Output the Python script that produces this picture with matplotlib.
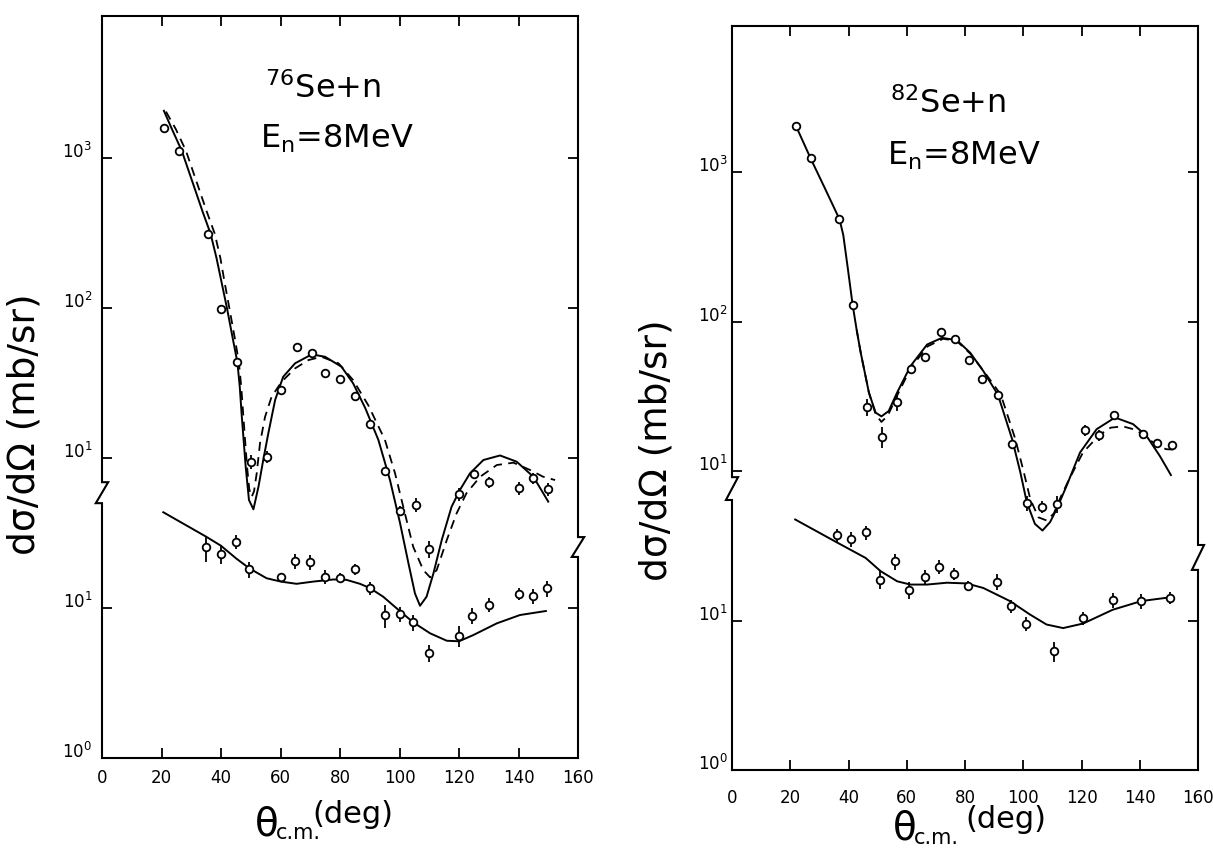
import numpy as np
import matplotlib
matplotlib.use('Agg')
import matplotlib.pyplot as plt

plt.rcParams['font.family'] = 'DejaVu Sans'
plt.rcParams['mathtext.fontset'] = 'dejavusans'

W, H = 1213, 850

# elastic data sit one decade above the inelastic data on the same log axis
SHIFT = 10.0

# ---------------- 76Se + n, En = 8 MeV ----------------
se76_el_theta = [21, 26, 35.5, 40, 45.5, 50, 55.5, 60, 65.5, 70.5, 75, 80,
                 85, 90, 95, 100, 105.5, 110, 120, 125, 130, 140, 145, 150]
se76_el_sig = [1580, 1120, 313, 99, 43.5, 9.4, 10.2, 28.4, 54.7, 49.9, 36.9, 33.5,
               26.0, 16.9, 8.15, 4.43, 4.89, 2.47, 5.73, 7.85, 6.92, 6.28, 7.33, 6.21]
se76_el_err = [0, 0, 0, 6, 0, 1.0, 1.0, 0, 0, 0, 0, 0,
               0, 0, 0, 0.35, 0.55, 0.32, 0.6, 0.6, 0.6, 0.6, 0.6, 0.6]

se76_in_theta = [35, 40, 45, 49.5, 60, 65, 70, 75, 80, 85, 90, 95, 100, 104.5,
                 110, 120, 124.5, 130, 140, 145, 149.5]
se76_in_sig = [25.4, 22.8, 27.7, 18.1, 16.2, 20.5, 20.2, 16.1, 15.8, 18.1, 13.6,
               8.94, 9.12, 8.03, 5.01, 6.53, 8.9, 10.5, 12.4, 12.0, 13.5]
se76_in_err = [5.0, 3.2, 2.9, 2.2, 1.0, 2.4, 2.4, 1.7, 1.2, 1.6, 1.3,
               1.6, 1.0, 1.0, 0.62, 1.0, 1.1, 1.1, 1.1, 1.4, 1.6]

se76_fit_theta = [20.8, 23.5, 26.8, 31, 33.8, 36.5, 38.5, 40.3, 42, 44, 45.5,
                  46.3, 47.0, 48.3, 49.4, 50.9, 52.6, 54.2, 55.9, 58.2, 60.9,
                  64.9, 70.5, 75.0, 80.5, 84.4, 88.5, 92.9, 96.8, 100.2, 103.0,
                  105.2, 106.9, 109.1, 111.4, 114.2, 117.5, 120.3, 123.7,
                  128.2, 133.8, 139.4, 145.0, 150.0]
se76_fit_sig = [2066, 1560, 1120, 640, 440, 313, 215, 145, 100, 62, 43.5,
                30, 18.8, 8.75, 5.25, 4.55, 6.44, 9.7, 14.6, 24.4, 34.8,
                42.8, 49.1, 47.3, 40.6, 31.5, 21.5, 13.2, 7.13, 3.67, 1.99,
                1.25, 1.035, 1.19, 1.70, 2.84, 4.73, 6.12, 7.91,
                9.7, 10.4, 9.45, 7.5, 5.12]

se76_dash_theta = [21.5, 24.8, 28.2, 32.4, 35.2, 37.9, 39.8, 41.3, 42.8, 44.7,
                   46.0, 46.8, 47.6, 48.7, 49.5, 50.3, 51.1, 52.0, 53.1, 54.8,
                   57.0, 60.4, 64.9, 69.4, 73.8, 79.5, 84.4, 89.5, 95.1, 98.5,
                   101.8, 104.6, 108.0, 110.3, 112.5, 115.9, 119.2, 122.5,
                   127.1, 132.7, 138.3, 143.9, 148.3, 152.3]
se76_dash_sig = [2040, 1560, 1120, 640, 440, 313, 215, 145, 100, 62,
                 43.5, 30, 18, 9.0, 6.2, 5.5, 6.0, 7.9, 12.5, 18.8,
                 25.6, 32.3, 39.6, 45.0, 47.3, 42.8, 33.1, 22.5, 13.2, 7.91,
                 4.28, 2.56, 1.79, 1.6, 1.79, 2.84, 4.28, 5.82,
                 7.5, 8.98, 9.31, 8.32, 7.5, 7.13]

se76_inl_theta = [20.6, 35, 40, 45.1, 49.5, 55.3, 60.1, 65.4, 71, 77.8, 82.2,
                  86.7, 90, 94.5, 99.7, 104.6, 110.3, 115.9, 120, 124.8, 132.7,
                  140.5, 149.2]
se76_inl_sig = [43.5, 29.9, 26.0, 21.4, 18.4, 15.8, 15.0, 14.5, 15.0, 15.5, 15.4,
                14.5, 13.6, 11.9, 9.7, 8.03, 6.78, 6.05, 6.0, 6.6, 7.9,
                8.98, 9.55]

# ---------------- 82Se + n, En = 8 MeV ----------------
se82_el_theta = [22, 27, 36.9, 41.4, 46.5, 51.4, 56.5, 61.5, 66.3, 71.8, 76.5, 81.5,
                 85.9, 91.3, 96.2, 101.2, 106.4, 111.5, 121.3, 126.1, 131.1, 141.2,
                 146, 151]
se82_el_sig = [2026, 1234, 484, 130, 27.0, 16.9, 28.9, 48.1, 58.2, 85.3, 76.7, 55.0,
               41.5, 32.4, 15.2, 6.12, 5.75, 6.05, 18.7, 17.4, 23.6, 17.6,
               15.3, 15.0]
se82_el_err = [0, 0, 0, 0, 3.5, 2.7, 3.8, 0, 0, 0, 0, 0,
               0, 0, 0, 0.7, 0.55, 0.8, 1.5, 1.4, 1.5, 1.1,
               0.8, 0.8]

se82_in_theta = [35.9, 41, 45.9, 50.8, 55.9, 60.8, 66.1, 71.1, 76.1, 81.1, 90.9,
                 95.8, 100.8, 110.6, 120.6, 130.7, 140.6, 150.5]
se82_in_sig = [37.1, 35.2, 38.8, 18.8, 24.9, 16.1, 19.6, 22.9, 20.5, 17.1, 18.2,
               12.5, 9.55, 6.21, 10.4, 13.7, 13.5, 14.2]
se82_in_err = [4.0, 4.0, 4.4, 2.6, 3.0, 2.1, 2.3, 2.5, 1.9, 1.3, 2.2,
               1.2, 1.0, 0.95, 1.0, 1.5, 1.5, 1.3]

se82_fit_theta = [22, 27, 31.9, 36.9, 38.2, 39.8, 41.4, 42.8, 44.2, 47, 49.3,
                  51.3, 53.8, 56.7, 61.3, 67, 72.1, 77.2, 81.8, 86.3, 91.3,
                  96.2, 99, 101.2, 104, 106.6, 109.2, 111.5, 114.9, 119.5,
                  125.2, 131.5, 137.7, 142.3, 146.9, 150.7]
se82_fit_sig = [2026, 1234, 778, 484, 380, 224, 130, 88, 61.8, 33.5, 24.6,
                23.2, 25.2, 33.5, 50.4, 70.2, 77.8, 75.0, 61.8, 46.6, 32.4,
                16.3, 9.8, 6.2, 4.43, 4.0, 4.55, 5.58, 7.98, 13.3,
                19.05, 22.8, 20.6, 17.2, 12.6, 9.4]

se82_dash_theta = [42.8, 44.2, 47, 49.3, 51.3, 53.5, 56.7, 61.3, 67, 72.5, 77.2,
                   81.8, 86.3, 92.3, 97.3, 100.2, 102.4, 105.2, 108, 110.5, 113,
                   116, 120.5, 126.1, 130, 134.2, 138, 141.2, 145, 149, 152.4]
se82_dash_sig = [88, 61.8, 33.5, 24.0, 21.3, 23.5, 32.0, 48.5, 68.0, 76.7, 74.0,
                 61.0, 47.0, 32.4, 16.3, 9.8, 6.5, 4.9, 4.67, 5.2, 6.8,
                 9.0, 13.3, 17.4, 19.5, 19.9, 19.0, 17.6, 15.3, 14.0, 13.9]

se82_inl_theta = [21.7, 35.9, 45.9, 51, 56.7, 61.2, 67, 73.8, 80.6, 86.3, 95.4,
                  102.2, 108, 113.7, 120.6, 130.7, 140.6, 150.5]
se82_inl_sig = [47.4, 33.4, 26.2, 21.4, 18.3, 17.4, 17.4, 17.9, 17.7, 16.5, 13.5,
                11.0, 9.4, 8.9, 9.55, 11.8, 13.5, 14.3]

ytick_vals = [1, 10, 100, 1000, 10000]
ytick_text = [r'$10^{0}$', r'$10^{1}$', r'$10^{1}$', r'$10^{2}$', r'$10^{3}$']
xtick_vals = list(range(0, 161, 20))


def draw_spine(ax, x0, brk_lo, brk_hi, d=0.013):
    # vertical frame line with a small zig-zag marking the axis break
    ylo, yhi = ax.get_ylim()
    xs = [x0, x0, x0 - d, x0 + d, x0, x0]
    ys = [ylo, brk_lo, brk_lo, brk_hi, brk_hi, yhi]
    ax.plot(xs, ys, color='black', lw=1.5, transform=ax.get_yaxis_transform(),
            clip_on=False, solid_joinstyle='miter')


def draw_panel(ax, el, inel, fit, dash, inl, ytop, left_brk, right_brk, xpad, ypad):
    ax.set_yscale('log')
    ax.set_xlim(0, 160)
    ax.set_ylim(1, ytop)

    ax.plot(fit[0], np.array(fit[1]) * SHIFT, color='black', lw=1.4)
    ax.plot(dash[0], np.array(dash[1]) * SHIFT, color='black', lw=1.3,
            dashes=(5, 3.5))
    ax.plot(inl[0], inl[1], color='black', lw=1.4)

    ax.errorbar(el[0], np.array(el[1]) * SHIFT, yerr=np.array(el[2]) * SHIFT,
                fmt='o', mfc='white', mec='black', ecolor='black', ms=5.5,
                mew=1.3, elinewidth=1.3, capsize=0)
    ax.errorbar(inel[0], inel[1], yerr=inel[2],
                fmt='o', mfc='white', mec='black', ecolor='black', ms=5.5,
                mew=1.3, elinewidth=1.3, capsize=0)

    ax.minorticks_off()
    ax.set_yticks(ytick_vals)
    ax.set_yticklabels(ytick_text, va='baseline', fontsize=12)
    ax.set_xticks(xtick_vals)
    ax.set_xticklabels([str(v) for v in xtick_vals], fontsize=12)
    ax.tick_params(direction='in', length=7, width=1.3, top=True, right=True)
    ax.tick_params(axis='x', pad=xpad)
    ax.tick_params(axis='y', pad=ypad)

    for side in ['top', 'bottom']:
        ax.spines[side].set_linewidth(1.5)
    ax.spines['left'].set_visible(False)
    ax.spines['right'].set_visible(False)
    draw_spine(ax, 0.0, left_brk[0], left_brk[1])
    draw_spine(ax, 1.0, right_brk[0], right_brk[1])


def theta_label(x, y, cm_dx, deg_dx, deg_dy):
    # theta with c.m. subscript and a raised "(deg)"
    fig.text(x / W, 1 - y / H, 'θ', fontsize=28, ha='left', va='baseline')
    fig.text((x + cm_dx) / W, 1 - (y + 4) / H, 'c.m.', fontsize=15,
             ha='left', va='baseline')
    fig.text((x + deg_dx) / W, 1 - (y - deg_dy) / H, '(deg)', fontsize=22,
             ha='left', va='baseline')


fig = plt.figure(figsize=(W / 100, H / 100), dpi=100)

ax1 = fig.add_axes([102 / W, 1 - 758 / H, 476 / W, 742 / H])
draw_panel(ax1,
           (se76_el_theta, se76_el_sig, se76_el_err),
           (se76_in_theta, se76_in_sig, se76_in_err),
           (se76_fit_theta, se76_fit_sig),
           (se76_dash_theta, se76_dash_sig),
           (se76_inl_theta, se76_inl_sig),
           10 ** 4.947, (50, 69), (21.9, 29.7), xpad=8, ypad=7)

ax2 = fig.add_axes([732 / W, 1 - 770 / H, 466 / W, 744 / H])
draw_panel(ax2,
           (se82_el_theta, se82_el_sig, se82_el_err),
           (se82_in_theta, se82_in_sig, se82_in_err),
           (se82_fit_theta, se82_fit_sig),
           (se82_dash_theta, se82_dash_sig),
           (se82_inl_theta, se82_inl_sig),
           10 ** 4.977, (64, 91), (21.8, 32), xpad=14, ypad=3)

# reaction labels
fig.text(265 / W, 1 - 98 / H, r'$^{76}$Se+n', fontsize=23, ha='left', va='baseline')
fig.text(260 / W, 1 - 148 / H, r'E$_{\mathregular{n}}$=8MeV', fontsize=23,
         ha='left', va='baseline')
fig.text(890 / W, 1 - 113 / H, r'$^{82}$Se+n', fontsize=23, ha='left', va='baseline')
fig.text(887 / W, 1 - 165 / H, r'E$_{\mathregular{n}}$=8MeV', fontsize=23,
         ha='left', va='baseline')

# axis titles
fig.text(25 / W, 1 - 424 / H, 'dσ/dΩ (mb/sr)', rotation=90, fontsize=27,
         ha='center', va='center')
fig.text(657 / W, 1 - 450 / H, 'dσ/dΩ (mb/sr)', rotation=90, fontsize=27,
         ha='center', va='center')
theta_label(255, 835, 21, 57, 12)
theta_label(893, 840, 21, 72, 12)

fig.savefig('out.png', dpi=100)
